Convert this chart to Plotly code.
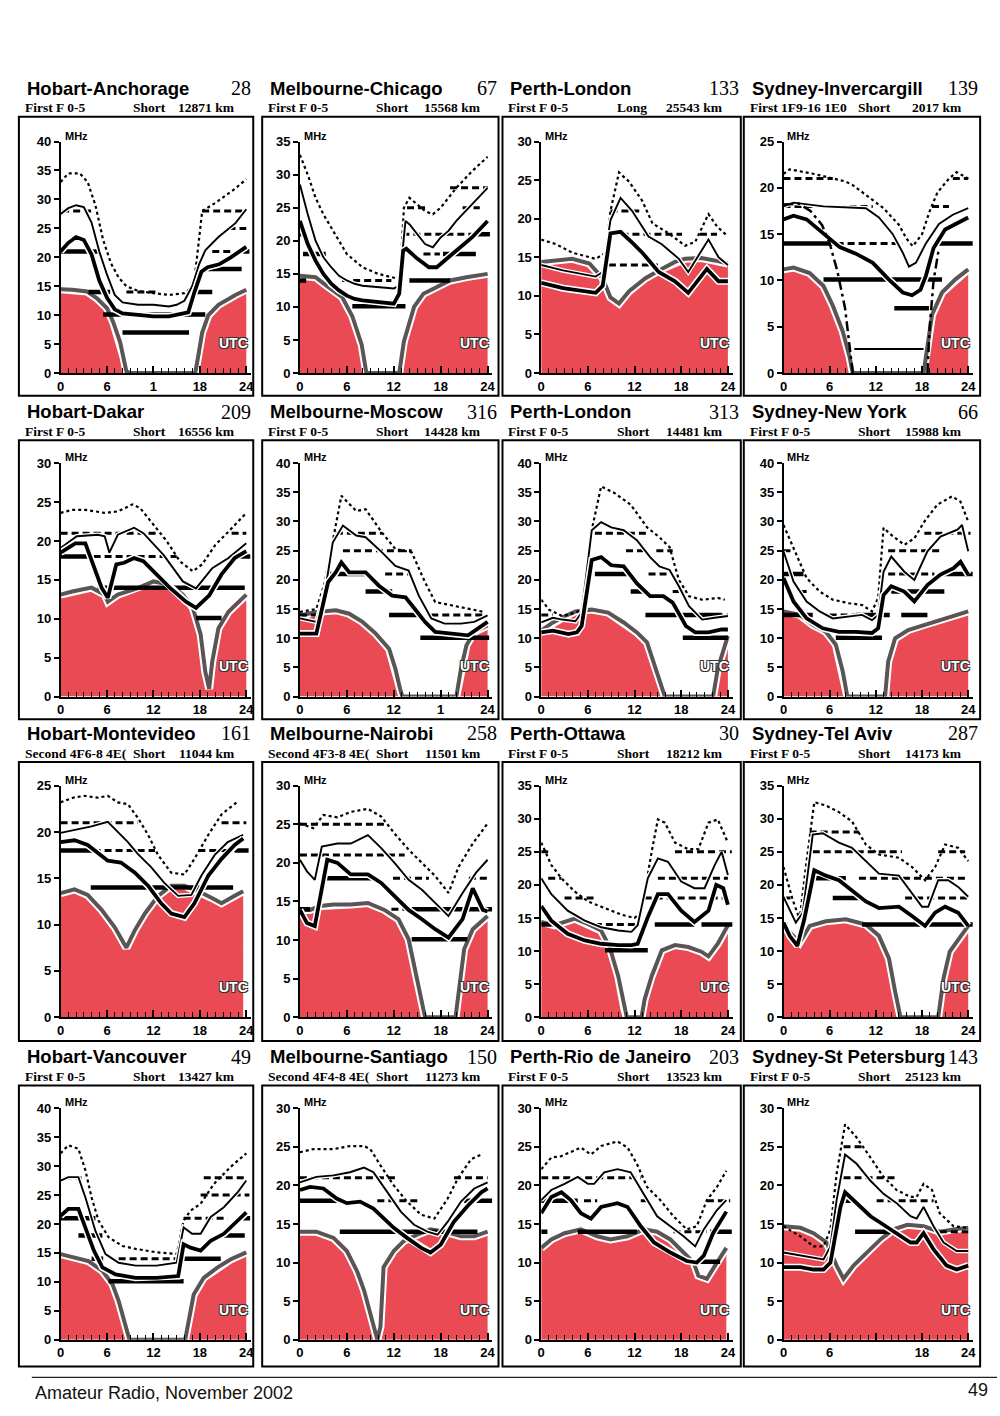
import plotly.graph_objects as go

# ---------------- data (UTC hour, MHz) ----------------
# curves: UD = upper decile (dotted), MUF = thin solid, OWF = thick solid,
# LUF = lower limit (red area). Bands: (MHz, from hour, to hour)

HA_UD = [(0,33),(1,34.5),(2.5,34.5),(3.5,33),(4.5,29),(5.5,23),(6.5,19),(7.5,16.5),(8.5,15),(10,14.2),(12,13.8),(14,13.5),(16,13.8),(17.2,15),(17.8,22),(18.3,28),(20,29.4),(22.5,31.8),(24,33.5)]
HA_MUF = [(0,27.5),(1,28.5),(2,29),(3,28.7),(4,26),(5,21),(6,17),(7,13.5),(8,12.2),(10,11.8),(12,11.8),(14,11.5),(15,11.8),(16,12.5),(17,15),(17.9,18.8),(18.7,21.2),(20.4,23.5),(22.6,25.9),(24,28.3)]
HA_OWF = [(0,21),(1,22.5),(2,23.5),(3,23),(4,20.5),(5,16),(6,13),(7,11),(8,10.3),(10,10),(12,9.8),(14,9.8),(16.5,10.5),(17.3,14),(18.2,17.5),(19,18.3),(20.5,18.8),(22,20),(24,21.8)]
HA_LUF = [(0,14.5),(1.5,14.4),(3.4,14.1),(4.7,12.9),(6,11.2),(6.8,8.8),(7.7,5.3),(8.1,2.9),(8.5,0.3),(9,0),(17.4,0),(17.8,3),(18.3,7),(19.1,10),(20.4,11.8),(22.6,13.5),(24,14.4)]
HA_DASH = [(28,0.2,4.3),(28,18.3,24),(25,21.7,24),(21,19.6,22),(14,8.5,12.5)]
HA_SOLID = [(21,0,5),(21,23.6,24.4),(18,18.3,23.4),(14,3.6,6.4),(14,17.4,19.6),(10.1,5.5,18.7),(7,8,16.6)]

MC_UD = [(0,33),(1,30),(2,26.5),(3,24),(4,22),(5,20),(6,18),(7,17),(8,16),(9,15.5),(10,15),(11,14.7),(12.8,14.2),(13.3,25),(14,26.5),(15,25.5),(16,24.5),(17,24),(18,25),(19,26.5),(20,28),(22,30.5),(24,32.7)]
MC_MUF = [(0,28.5),(1,24),(2,20),(3,17.5),(4,16),(5,14.7),(6,14),(7,13.5),(8,13.2),(10,13),(11,13),(12,12.8),(12.7,13.2),(13.5,23),(14,22.5),(15,21),(16,19.5),(17,19),(18,20.5),(19,21.5),(20,23),(22,25.5),(24,28)]
MC_OWF = [(0,23),(1,19.5),(2,17),(3,15),(4,13.5),(5,12.5),(6,11.7),(7,11.2),(8,11),(10,10.8),(12,10.5),(12.7,12),(13.2,18.5),(13.6,18.8),(15,17.3),(16.5,16),(17.5,16),(19,17.5),(20,18.5),(22,20.5),(24,23)]
MC_LUF = [(0,14.7),(2,14.5),(3.3,13.3),(5.4,11.5),(6.7,8.6),(7.9,4.3),(8.5,0),(12.7,0),(13.3,4.8),(14.6,10),(15.8,12),(17.5,13),(19.2,14),(21.3,14.5),(24,15)]
MC_DASH = [(28,19.2,24),(25,13.7,16),(25,20.8,23),(21,13.1,22.5),(18,15.8,17.9),(14,5.4,11.7)]
MC_SOLID = [(21,0,0.8),(21,22.5,24.3),(18,0.4,3.3),(18,18.3,22.5),(14,14,19.2),(14,0,0.8),(10.1,6.7,13.5)]

PL_UD = [(0,17.3),(1.9,16.7),(4,15.6),(7,14.8),(8.3,15.6),(8.9,21),(10,26),(11.3,24.8),(13,22.3),(14.3,19.4),(16.4,18.1),(18.5,16.5),(19.8,17),(21.5,20.6),(22.6,19),(24,17.7)]
PL_MUF = [(0,14),(2.8,13.3),(7,12.5),(7.9,13.1),(8.9,19.8),(10.2,22.7),(11.7,21),(13.8,17.7),(15.5,16.7),(17.7,14.8),(18.9,13.1),(20.2,15.2),(21.5,17.3),(22.8,15),(24,14)]
PL_OWF = [(0,11.7),(2.8,11),(7,10.4),(7.9,11.3),(8.9,18.1),(10.2,18.3),(11.7,16.9),(13,15.6),(15.1,13.1),(17.2,11.9),(18.9,10.4),(21.3,13.5),(22.8,11.9),(24,11.9)]
PL_LUF = [(0,14.4),(1.9,14.6),(4,14.8),(6.2,14.2),(7.9,12.3),(8.9,9.8),(10,9),(11.3,10.6),(13.4,12.3),(15.5,13.5),(17.2,14.4),(18.5,14.8),(20.6,14.9),(22.3,14.6),(24,14.2)]
PL_DASH = [(21,8.9,12.6),(18,8.9,18.1),(18,20.4,22.6),(14,8.7,15)]
PL_SOLID = []

SI_UD = [(0,21.5),(0.8,22),(4,21.5),(8,20.7),(9,20.3),(11,19),(13,17.8),(15,16),(16,14.5),(16.8,13.7),(18,15),(19,17.5),(20,19.5),(21.5,21),(22.5,21.7),(24,21)]
SI_MUF = [(0,18),(1.3,18.4),(5.2,18),(10.7,17.8),(12.4,16.8),(14.2,15),(15.5,13),(16.3,11.5),(17.2,11.9),(18.5,14),(20.2,16.1),(22,17.1),(24,17.8)]
SI_OWF = [(0,16.6),(1.3,17),(3,16.6),(5.2,15),(7.3,13.6),(9.4,12.9),(11.6,11.9),(13.7,10.1),(15.5,8.7),(16.7,8.4),(17.8,9),(18.5,10.5),(19.5,13.5),(21,15.5),(24,16.8)]
SI_E = [(0,18.2),(2,18.3),(3.5,17.5),(5,16),(6,14),(7,11),(8,7),(8.6,3),(9,0),(None,None),(18.7,0),(19,5),(19.5,10),(20.2,13.5)]
SI_LUF = [(0,11.2),(1.3,11.4),(3.4,10.8),(5.2,9.4),(6.4,7.3),(7.7,4.5),(8.6,1.7),(9,0),(18.2,0),(18.7,2.8),(19.3,6.3),(20.6,8.7),(22.3,10.1),(24,11.2)]
SI_DASH = [(21,0,6.4),(21,22,24),(18,0,11.6),(18,19.3,21.5),(14,6.9,15.5),(10.1,15,16.7)]
SI_SOLID = [(14,0,6.9),(14,19.7,24.6),(10.1,5.2,20.6),(7,14.4,18.9)]
SI_THIN = [(2.6,9.2,18.2)]

HD_UD = [(0,23.6),(1.5,24),(3.2,24),(5.7,23.6),(7.4,23.8),(9.3,24.7),(10.3,24.2),(12,22.1),(13.7,20),(15.4,17.4),(17.1,16.1),(18.3,17),(20,19.5),(21.7,21.2),(24,23.6)]
HD_MUF = [(0,19.1),(2.1,20.6),(4.8,20.8),(5.7,20.6),(6.3,18.5),(7.4,20.8),(9.5,21.7),(10.7,21),(13.3,18.2),(15.8,14.8),(17.5,13.9),(19.6,16.5),(21.7,17.8),(24,19.7)]
HD_OWF = [(0,18.5),(1.9,19.7),(3.2,19.7),(4.4,16.5),(5.3,14),(6.1,12.7),(7.2,17),(8.2,17.2),(9.5,17.8),(10.7,17.4),(12.4,15.7),(14.1,14),(16.2,12.2),(17.5,11.4),(19.2,13),(20.8,15.7),(22.5,17.8),(24,18.7)]
HD_LUF = [(0,13.1),(1.5,13.5),(4,14),(5.7,13.1),(6.1,12.2),(7.4,13.1),(9.9,13.9),(12,14.8),(14.1,14.4),(15.8,13.1),(17.1,11.4),(18.1,8),(18.7,3.2),(19.2,1),(19.6,4.5),(20.4,8.8),(21.7,10.9),(24,13.1)]
HD_DASH = [(21,0,12.4),(21,22.1,24),(18,0,15),(18,22.5,24.5)]
HD_SOLID = [(18,0,3.6),(18,23.2,24.5),(14,4.8,23.8),(10.1,17.5,20.8)]

MM_UD = [(0,14.5),(2.1,15),(3.2,19.6),(4.2,26.4),(5.3,34.4),(7.2,31.8),(8.4,32.1),(10.5,28.1),(12.2,25.3),(14.3,24.7),(16,19.6),(17.3,16.2),(19.4,15.6),(21.5,15),(23.6,14.5)]
MM_MUF = [(0,13.4),(2.1,12.8),(3.4,19.6),(4.2,26.4),(5.5,29.3),(7.2,27.6),(8.4,27.3),(10.5,24.7),(12.2,22.4),(13.9,21.6),(15.2,17.3),(16.8,13.4),(18.5,12.5),(20.6,12.5),(22.3,12.8),(24,13.9)]
MM_OWF = [(0,10.8),(2.1,10.8),(3.6,19.6),(4.6,21.3),(5.3,23),(6.3,21.3),(8.4,21.3),(10.1,19),(11.8,17.3),(13.5,17),(14.7,15),(16,12.8),(17.3,11.1),(19.4,10.8),(21.5,10.5),(22.7,11.6),(24,12.8)]
MM_LUF = [(0,13.9),(2.1,14.5),(4.6,14.8),(6.3,14.2),(8,12.8),(9.7,10.8),(11.4,8.2),(12.2,4.8),(12.8,1.4),(13.1,0),(20,0),(20.6,4.8),(21.3,8.8),(22.3,11.1),(24,12.2)]
MM_DASH = [(28,4.6,10.5),(25,5.5,14.3),(21,10.9,14.3),(14,16.8,23.6),(14,0,2.5)]
MM_SOLID = [(21,3.8,8.4),(18,8.4,11.8),(14,11.4,15.2),(10.1,15.4,24.2)]

PL2_UD = [(0,16.6),(1,14.9),(2.7,13.8),(4.4,14.4),(5.2,14.9),(6.3,27.3),(7.7,36),(9.4,34.9),(11.5,32.9),(13.6,29),(15.2,27.3),(16.5,25.6),(17.7,20),(19,17.2),(20.7,16.6),(22.7,16.9),(23.6,16.6)]
PL2_MUF = [(0,12.7),(1.5,13.5),(2.7,13.2),(4.4,12.9),(5.2,14.4),(6.5,28.5),(7.7,29.9),(9,29),(10.6,28.5),(12.3,26.8),(14,23.9),(15.2,22.3),(16.5,21.7),(17.7,18.9),(19,15.5),(20.7,13.2),(22.3,13.5),(24,13.8)]
PL2_OWF = [(0,11),(1.5,11.3),(3.5,10.7),(4.6,11),(5.2,12.1),(6.5,23.4),(7.7,23.9),(9,22.5),(10.6,22.3),(12.3,19.4),(14,17.2),(15.7,17.2),(16.9,16.1),(18.6,12.1),(19.8,11),(21.5,11),(23.2,11.5),(24,11.5)]
PL2_LUF = [(0,11.3),(1.5,12.7),(3.1,13.8),(4.4,14.6),(6.5,14.9),(8.6,14.4),(10.6,12.7),(12.3,11),(13.6,9.3),(14.4,5.9),(15.2,2.5),(15.9,0),(22.1,0),(22.7,4.8),(23.6,8.7),(24,10.4)]
PL2_DASH = [(28,6.9,13.6),(25,10.9,13.1),(25,14.8,16.9),(21,13.8,16.5),(18,16.9,17.7),(14,18.2,24),(14,0,1.5)]
PL2_SOLID = [(21,6.9,11.5),(18,11.5,13.6),(14,13.4,23.2),(10.1,18.2,24)]

SN_UD = [(0,29.4),(1.3,25.4),(3,20.3),(4.7,18),(6.4,16.6),(8.5,16),(10.2,15.7),(11.5,14.6),(12.3,16.9),(13,28.9),(14,27.7),(15.7,26),(17,27.1),(18.3,30),(20,32.9),(21.9,34.3),(23,33.4),(24,30)]
SN_MUF = [(0,24.9),(1.3,19.7),(3,16.3),(4.7,14.6),(6.4,13.4),(8.5,13.7),(10.2,14),(11.5,13.1),(12.3,14),(13,21.4),(14,24),(15.7,21.4),(17,20),(18.7,24.9),(20.4,27.4),(22.6,28.6),(23.2,29.4),(24,24.9)]
SN_OWF = [(0,20.3),(1.3,16.3),(3,13.4),(5.1,11.7),(7.2,11.1),(9.4,11.1),(11.5,10.9),(12.3,11.7),(13,17.4),(14,18.9),(15.7,18),(17,16.3),(18.7,19.1),(20.4,20.9),(22.1,22),(23,23.1),(24,20.9)]
SN_LUF = [(0,14.6),(2.1,14),(3.8,12.3),(5.5,11.1),(6.8,8.9),(7.7,4.3),(8.3,0),(13.2,0),(13.6,6),(14.5,10),(16.2,11.4),(18.3,12.3),(20.4,13.1),(22.6,14),(24,14.6)]
SN_DASH = [(28,18.3,24.3),(25,0,1.3),(25,13.6,20.4),(21,13.6,19.6),(18,2.1,3.4),(18,17,17.9),(14,6,13.6)]
SN_SOLID = [(21,0,2.6),(21,20.6,24.6),(18,14,20.9),(14,0,3.8),(14,9.4,13.8),(14,15.3,18.7),(10.1,6.8,12.8)]

HM_UD = [(0,23.2),(1.6,23.7),(3.1,23.9),(4.8,23.7),(6.1,23.9),(7.4,23.2),(8.7,23),(10,21.5),(11.3,19.7),(12.6,17.5),(14.3,15.6),(16,15.4),(17.3,17.1),(19.1,19.7),(20.8,21.9),(22.5,23),(22.9,23.3)]
HM_MUF = [(0,19.9),(1.8,20.2),(4,20.6),(6.1,21.1),(7.4,20),(8.7,18.9),(10,17.6),(11.7,16.2),(13.4,14.5),(15.2,13.1),(16.9,13.2),(18.2,15.3),(19.9,17.5),(21.6,18.9),(23.6,19.7)]
HM_OWF = [(0,18.9),(1.8,19.1),(3.5,18.6),(4.8,17.8),(6.1,16.9),(7.8,16.7),(9.6,15.6),(11.3,14.2),(13,12.3),(14.3,11.2),(16,10.8),(17.3,12.3),(19.1,15.3),(20.8,17.1),(22.5,18.6),(23.6,19.3)]
HM_LUF = [(0,13.4),(1.8,13.8),(3.5,13.2),(5.3,11.6),(7,9.7),(8.5,7.5),(9.6,9.4),(10.9,11.2),(12.6,13.1),(14.3,14.2),(16,14.2),(17.8,13.6),(19.5,12.9),(20.8,12.3),(22.5,13.1),(23.6,13.6)]
HM_DASH = [(21,0,10),(21,20.8,24),(18,0,12.2),(18,17.8,24)]
HM_SOLID = [(18,0,4.4),(18,22.5,24.3),(14,3.9,22.3)]

MN_UD = [(0,25.1),(1.7,24.5),(3,26.2),(4.8,25.9),(6.5,26.6),(8.7,27),(10.4,26),(12.1,23.8),(13.9,21.7),(15.6,20),(17.3,18.3),(19,16.1),(20.3,19.5),(22.1,22.5),(24,25.1)]
MN_MUF = [(0,20.4),(0.9,18.9),(1.9,17.8),(2.8,22.1),(4.8,22.5),(6.5,22.5),(8.7,23.6),(10.4,21.9),(12.1,20),(13.9,17.8),(15.6,16.5),(17.3,14.8),(19,13.1),(20.8,16.1),(22.5,18.7),(24,20.4)]
MN_OWF = [(0,13.9),(0.9,12.2),(1.9,11.8),(3.5,20.4),(4.8,20),(6.5,18.5),(8.7,18.5),(10.4,17.4),(12.1,15.7),(13.9,13.9),(15.6,12.7),(17.3,11.4),(19,10.3),(20.8,12.7),(22.1,16.7),(23.4,13.9),(24,13.7)]
MN_LUF = [(0,13.9),(1.3,13.9),(2.6,14.4),(4.3,14.6),(6.5,14.6),(8.7,14.8),(10.8,13.9),(12.6,12.7),(13.9,10.1),(14.7,6.2),(15.6,2.4),(16,0),(19.9,0),(20.3,3.2),(21,8.8),(22.1,11.4),(24,13.1)]
MN_DASH = [(25,0,10.8),(21,0,13.4),(18,11.9,16.5),(18,21.6,24.2),(14,11.7,19)]
MN_SOLID = [(18,3.2,9.5),(14,0,1.3),(14,14.3,24.6),(10.1,14.3,21.4)]

PO_UD = [(0,26.4),(1.3,23),(2.6,21),(4.3,19),(6,17.5),(8.2,16.5),(10.3,15.5),(12,15),(12.9,16),(14.2,25),(15,29.9),(15.9,29.4),(17.2,26.4),(18.9,25.4),(20.2,25.4),(21.5,29.4),(22.7,29.9),(24,26.4)]
PO_MUF = [(0,21),(1.3,18.6),(3.4,16.1),(5.6,14.6),(7.7,13.6),(9.9,13.1),(11.6,12.9),(12.4,13.9),(13.7,21),(15,24),(16.3,23.5),(18,20.5),(19.7,19.5),(21,19.5),(22.3,23),(23.2,25),(24,21.5)]
PO_OWF = [(0,16.8),(1.3,14.6),(3.4,12.6),(5.6,11.6),(7.7,11.1),(9.9,10.9),(11.6,10.9),(12.4,11.1),(13.7,15.1),(15,18.6),(16.3,18.6),(18,16.1),(19.7,14.4),(21.5,16.1),(22.5,20),(23.4,19.5),(24,17)]
PO_LUF = [(0,14.4),(1.7,13.9),(4.3,14.9),(6,14.1),(7.7,13.1),(8.8,10.6),(9.9,6.2),(10.7,1.2),(11,0),(12.9,0),(13.3,2.7),(14.2,6.2),(15.5,10.1),(17.2,10.9),(18.9,10.6),(20.6,9.9),(21.5,9.2),(22.7,11.1),(24,13.9)]
PO_DASH = [(25,0,0.9),(25,17.2,24.5),(21,0.9,2.6),(21,15,24),(18,3,6.9),(18,13.3,24),(14,6.9,12.4)]
PO_SOLID = [(14,0,1.3),(14,14.6,19.7),(14,20.6,24.6),(10.1,8.2,13.7)]

TA_UD = [(0,22.7),(1.2,17.7),(2.1,14.8),(2.9,22.7),(4,32.5),(5.5,32),(7.2,31),(8.9,29.6),(10.7,26.1),(12.4,24.6),(15,24.1),(16.7,22.7),(18.4,20.7),(19.7,22.7),(21,26.1),(22.7,25.6),(24,23.6)]
TA_MUF = [(0,18.2),(0.8,16.3),(1.6,14.3),(2.5,15.8),(3.8,27.6),(5.1,27.8),(7.2,26.4),(8.9,25.6),(10.7,23.6),(12.4,21.7),(15,21.4),(16.7,18.7),(18,16.7),(18.8,16.7),(20.1,20.7),(21.4,20.7),(22.7,19.7),(24,18.2)]
TA_OWF = [(0,14.3),(0.8,12.3),(1.8,10.8),(2.7,14.8),(4,22.2),(5.5,21.4),(7.2,20.7),(8.9,19.2),(10.7,17.5),(12.4,16.5),(15,16.7),(16.7,15.3),(18.4,13.8),(19.7,15.8),(21,16.7),(22.7,15.8),(24,13.8)]
TA_LUF = [(0,13.8),(1.2,12.3),(2.1,11.3),(3.4,13.8),(5.5,14.5),(8.1,14.8),(10.7,14),(12.4,12.3),(13.7,8.9),(14.5,3.9),(15.2,0),(20.1,0),(20.8,5.9),(21.6,9.9),(22.7,11.8),(24,13.8)]
TA_DASH = [(28,3.4,9.8),(25,3.8,15.4),(25,20.1,23.6),(21,9.8,24),(18,0,1.2),(18,15.8,24)]
TA_SOLID = [(21,3.6,8.1),(18,6.4,10.2),(14,0,0.5),(14,10.2,24.6)]

HV_UD = [(0,32.2),(1,33.6),(2.3,33),(3.2,29.3),(4,24.6),(4.9,20.6),(6.2,17.7),(8,16.2),(9.7,15.7),(12.4,15.1),(15,14.8),(15.9,20.6),(16.8,22.3),(18.1,23.5),(19.8,26.9),(22,29.9),(24,32.2)]
HV_MUF = [(0,27.5),(1,28.1),(2.3,28.1),(3.2,24.6),(4.5,18.8),(5.8,14.8),(7.5,13.3),(9.7,12.8),(12.4,12.8),(15,13.3),(15.9,19.4),(17,18.3),(18.1,18.3),(19.4,21.2),(21.1,22.9),(22.9,25.5),(24,27.5)]
HV_OWF = [(0,21.4),(1,22.6),(2.3,22.6),(3.2,19.4),(4.3,15.4),(5.4,12.5),(7.1,11.3),(9.7,10.7),(12.4,10.7),(15.2,11),(15.9,16.5),(16.8,15.9),(18.1,15.4),(19.4,17.1),(21.1,18.3),(22.9,20.6),(24,22)]
HV_LUF = [(0,14.8),(1.8,14.2),(3.6,13.6),(5.4,11.9),(6.7,9.6),(7.5,6.7),(8.4,2.6),(8.9,0),(16.1,0),(16.5,3.2),(17.2,7.8),(18.5,10.7),(20.3,12.5),(22,13.9),(24,15.1)]
HV_DASH = [(28,0.5,2.7),(28,18.5,24),(25,18.1,24.4),(21,15.9,21.6),(14,7.5,15)]
HV_SOLID = [(21,0,4.5),(21,22.8,24.5),(18,2.3,5.4),(18,20.3,23.8),(14,4,5.5),(14,15.9,20.7),(10.1,6.2,15.9)]

MS_UD = [(0,24.3),(1.7,24.7),(4.3,24.7),(6.4,25.1),(8.2,25.1),(9,24.7),(10.3,22.6),(12,20),(13.7,17.9),(15.5,16.2),(17.2,15.7),(18.9,18.3),(20.2,20.9),(21.9,23.4),(23.2,24)]
MS_MUF = [(0,20.4),(2.1,21.1),(4.3,21.3),(6.4,21.7),(8.2,22.3),(9.4,21.7),(11.2,19.1),(12.9,16.6),(14.6,14.9),(16.3,14),(17.6,13.6),(18.9,15.3),(20.6,17.9),(22.3,19.6),(24,20.4)]
MS_OWF = [(0,19.4),(1.3,19.8),(3,19.6),(4.7,18.3),(6,17.7),(7.7,17.9),(9.4,17),(10.7,15.7),(12,14.5),(13.7,13.2),(15.5,11.9),(16.7,11.3),(18,12.3),(19.7,15.3),(21.5,17.4),(23.2,19.1),(24,19.6)]
MS_LUF = [(0,14),(2.1,14),(4.3,13.2),(6,11.5),(7.3,8.9),(8.2,6.4),(9,3.4),(9.9,0),(10.3,1.7),(10.7,9.4),(12,11.5),(13.3,12.8),(15,13.6),(16.7,14.3),(18.5,14),(20.6,13.4),(22.3,13.4),(24,14)]
MS_DASH = [(21,0,12.4),(21,19.7,24),(18,9.9,15.5),(14,13.7,18.5)]
MS_SOLID = [(18,0,4.7),(18,21,24.6),(14,5.1,22.7)]

PR_UD = [(0,22.1),(1.3,23.6),(2.6,23.8),(5.1,24.9),(6.4,24),(7.7,25.1),(9.8,25.7),(11.1,24.9),(12.3,22.8),(13.6,19.8),(15.3,18.1),(17,16),(18.7,14.3),(20,14.7),(21.3,18.1),(22.6,19.8),(23.8,21.9)]
PR_MUF = [(0,18.1),(1.3,19.4),(3,20.2),(4.7,21.1),(6,20.2),(6.8,20.2),(8.1,21.7),(9.8,22.1),(11.5,21.7),(13.2,18.9),(14.9,16),(16.6,14.7),(18.3,13.4),(19.8,12.1),(20.9,14.3),(22.6,16.8),(23.8,18.1)]
PR_OWF = [(0,16.4),(1.3,18.5),(2.6,19.1),(3.8,18.1),(5.1,16.4),(6.4,15.7),(7.7,17.2),(9.8,17.7),(11.1,17.2),(12.8,14.7),(14.5,12.6),(16.6,11.3),(18.7,10.2),(20,10),(20.9,10.9),(22.1,13.8),(23.8,16.6)]
PR_LUF = [(0,11.9),(1.3,13),(3,13.8),(5.1,14.3),(7.2,13.4),(8.9,13),(11.1,13.4),(13.2,14.3),(14.9,14),(16.6,13),(18.3,11.3),(19.6,10),(20.2,8.3),(21.3,7.9),(22.6,10),(23.8,11.9)]
PR_DASH = [(21,0,12.8),(18,5.5,7.2),(18,12.8,14),(18,21.3,24.3),(14,17,21.3)]
PR_SOLID = [(18,0,4.7),(14,0,0.8),(14,4.7,12.3),(14,21.7,24.5),(10.1,20,23)]

SP_UD = [(0,14.7),(2.2,13.4),(3.9,12.1),(5.2,12.1),(6.1,14.3),(6.9,21.5),(8,27.9),(9.5,26.2),(11.3,23.6),(13,21.1),(14.7,19.4),(16.5,18.5),(17.3,18.5),(18.2,20.2),(19.3,19.4),(20.3,16.4),(22.1,14.7),(24,14.5)]
SP_MUF = [(0,11.3),(2.2,10.9),(3.9,10.6),(5.2,10.4),(6.1,12.1),(6.9,18.1),(8,24),(9.5,22.8),(11.3,20.6),(13,18.9),(14.7,17.7),(16.5,16),(17.3,15.7),(18.2,17.2),(19.5,14.7),(20.8,12.6),(22.5,11.5),(24,11.5)]
SP_OWF = [(0,9.4),(2.2,9.4),(3.9,9.1),(5.2,9.1),(6.1,10),(7.4,17.2),(8,19.1),(9.5,17.7),(11.3,16),(13,14.9),(14.7,13.8),(16.5,12.6),(17.3,12.6),(18.2,13.8),(19.5,11.7),(21.2,9.6),(22.5,9.1),(24,9.6)]
SP_LUF = [(0,14.7),(2.2,14.5),(3.9,13.8),(5.6,12.6),(6.9,9.6),(7.8,7.9),(9.1,9.6),(10.8,11.3),(12.6,13),(14.3,14.3),(16.1,14.9),(18.2,14.7),(20.3,14),(22.1,14.3),(24,14.5)]
SP_DASH = [(25,7.8,10.4),(21,7.8,14.7),(18,12.1,19.5),(14,20.3,24)]
SP_SOLID = [(18,7.4,9.1),(14,9.3,14.3)]

XT = ["0", "6", "12", "18", "24"]

PANELS = [
    dict(t="Hobart-Anchorage", n="28", s="First F 0-5", r="Short", d="12871 km", ymax=40, xt=["0","6","1","18","24"], luf=HA_LUF, ud=HA_UD, muf=HA_MUF, owf=HA_OWF, dash=HA_DASH, solid=HA_SOLID),
    dict(t="Melbourne-Chicago", n="67", s="First F 0-5", r="Short", d="15568 km", ymax=35, xt=XT, luf=MC_LUF, ud=MC_UD, muf=MC_MUF, owf=MC_OWF, dash=MC_DASH, solid=MC_SOLID),
    dict(t="Perth-London", n="133", s="First F 0-5", r="Long", d="25543 km", ymax=30, xt=XT, luf=PL_LUF, ud=PL_UD, muf=PL_MUF, owf=PL_OWF, dash=PL_DASH, solid=PL_SOLID),
    dict(t="Sydney-Invercargill", n="139", s="First 1F9-16 1E0", r="Short", d="2017 km", ymax=25, xt=XT, luf=SI_LUF, ud=SI_UD, muf=SI_MUF, owf=SI_OWF, dash=SI_DASH, solid=SI_SOLID, thin=SI_THIN, e=SI_E),
    dict(t="Hobart-Dakar", n="209", s="First F 0-5", r="Short", d="16556 km", ymax=30, xt=XT, luf=HD_LUF, ud=HD_UD, muf=HD_MUF, owf=HD_OWF, dash=HD_DASH, solid=HD_SOLID),
    dict(t="Melbourne-Moscow", n="316", s="First F 0-5", r="Short", d="14428 km", ymax=40, xt=["0","6","12","1","24"], luf=MM_LUF, ud=MM_UD, muf=MM_MUF, owf=MM_OWF, dash=MM_DASH, solid=MM_SOLID),
    dict(t="Perth-London", n="313", s="First F 0-5", r="Short", d="14481 km", ymax=40, xt=XT, luf=PL2_LUF, ud=PL2_UD, muf=PL2_MUF, owf=PL2_OWF, dash=PL2_DASH, solid=PL2_SOLID),
    dict(t="Sydney-New York", n="66", s="First F 0-5", r="Short", d="15988 km", ymax=40, xt=XT, luf=SN_LUF, ud=SN_UD, muf=SN_MUF, owf=SN_OWF, dash=SN_DASH, solid=SN_SOLID),
    dict(t="Hobart-Montevideo", n="161", s="Second 4F6-8 4E(", r="Short", d="11044 km", ymax=25, xt=XT, luf=HM_LUF, ud=HM_UD, muf=HM_MUF, owf=HM_OWF, dash=HM_DASH, solid=HM_SOLID),
    dict(t="Melbourne-Nairobi", n="258", s="Second 4F3-8 4E(", r="Short", d="11501 km", ymax=30, xt=XT, luf=MN_LUF, ud=MN_UD, muf=MN_MUF, owf=MN_OWF, dash=MN_DASH, solid=MN_SOLID),
    dict(t="Perth-Ottawa", n="30", s="First F 0-5", r="Short", d="18212 km", ymax=35, xt=XT, luf=PO_LUF, ud=PO_UD, muf=PO_MUF, owf=PO_OWF, dash=PO_DASH, solid=PO_SOLID),
    dict(t="Sydney-Tel Aviv", n="287", s="First F 0-5", r="Short", d="14173 km", ymax=35, xt=XT, luf=TA_LUF, ud=TA_UD, muf=TA_MUF, owf=TA_OWF, dash=TA_DASH, solid=TA_SOLID),
    dict(t="Hobart-Vancouver", n="49", s="First F 0-5", r="Short", d="13427 km", ymax=40, xt=XT, luf=HV_LUF, ud=HV_UD, muf=HV_MUF, owf=HV_OWF, dash=HV_DASH, solid=HV_SOLID),
    dict(t="Melbourne-Santiago", n="150", s="Second 4F4-8 4E(", r="Short", d="11273 km", ymax=30, xt=XT, luf=MS_LUF, ud=MS_UD, muf=MS_MUF, owf=MS_OWF, dash=MS_DASH, solid=MS_SOLID),
    dict(t="Perth-Rio de Janeiro", n="203", s="First F 0-5", r="Short", d="13523 km", ymax=30, xt=XT, luf=PR_LUF, ud=PR_UD, muf=PR_MUF, owf=PR_OWF, dash=PR_DASH, solid=PR_SOLID),
    dict(t="Sydney-St Petersburg", n="143", s="First F 0-5", r="Short", d="25123 km", ymax=30, xt=["0","6","","18","24"], luf=SP_LUF, ud=SP_UD, muf=SP_MUF, owf=SP_OWF, dash=SP_DASH, solid=SP_SOLID),
]

# ---------------- layout geometry (pixels) ----------------
W, H = 1000, 1416
COL_X0 = [57, 298, 541, 785]
COL_X24 = [244, 487, 729, 971]
COL_BOX = [(15, 251), (260, 498), (502, 742), (745, 983)]
ROW_Y0 = [370, 697, 1021, 1347]
ROW_YT = [136, 461, 787, 1113]
ROW_BOX = [(111, 393), (438, 720), (763, 1045), (1090, 1374)]
XMAX = 24.6

RED = "#e94a54"
GREY = "#5a5454"
SANS = "Liberation Sans, Arial, sans-serif"
SERIF = "Liberation Serif, Times New Roman, serif"


def fx(px):
    return px / W


def fy(py):
    return 1 - py / H


def xy(pairs):
    return [p[0] for p in pairs], [p[1] for p in pairs]


def seg(bands):
    xs, ys = [], []
    for f, a, b in bands:
        xs += [a, b, None]
        ys += [f, f, None]
    return xs, ys


fig = go.Figure()
layout = dict(width=W, height=H, margin=dict(l=0, r=0, t=0, b=0), autosize=False,
              paper_bgcolor="white", plot_bgcolor="rgba(0,0,0,0)", showlegend=False)
ann, shapes = [], []


def add_line(xs, ys, xa, ya, **line):
    fig.add_trace(go.Scatter(x=xs, y=ys, mode="lines", line=line, xaxis=xa, yaxis=ya,
                             hoverinfo="skip", showlegend=False))


for i, p in enumerate(PANELS):
    r, c = divmod(i, 4)
    k = "" if i == 0 else str(i + 1)
    xa, ya = "x" + k, "y" + k
    x0, x24 = COL_X0[c], COL_X24[c]
    xr = x0 + XMAX * (x24 - x0) / 24
    tickfont = dict(family=SANS, size=13, color="black", weight="bold")
    layout["xaxis" + k] = dict(domain=[fx(x0), fx(xr)], range=[0, XMAX], anchor=ya,
                               tickmode="array", tickvals=[0, 6, 12, 18, 24], ticktext=p["xt"],
                               ticks="inside", ticklen=7, tickwidth=1.5, tickcolor="black",
                               minor=dict(dtick=1, tick0=0, ticks="inside", ticklen=5, tickwidth=1.2, tickcolor="black"),
                               showline=True, linecolor="black", linewidth=2, showgrid=False, zeroline=False,
                               tickfont=tickfont, layer="above traces", fixedrange=True)
    layout["yaxis" + k] = dict(domain=[fy(ROW_Y0[r]), fy(ROW_YT[r])], range=[0, p["ymax"]], anchor=xa,
                               tickmode="array", tickvals=list(range(0, p["ymax"] + 1, 5)),
                               ticks="outside", ticklen=5, tickwidth=1.5, tickcolor="black",
                               showline=True, linecolor="black", linewidth=1.5, showgrid=False, zeroline=False,
                               tickfont=tickfont, layer="above traces", fixedrange=True)

    # red area below the lower limit
    lx, ly = xy(p["luf"])
    fig.add_trace(go.Scatter(x=lx, y=ly, mode="lines", fill="tozeroy", fillcolor=RED,
                             line=dict(width=0, color=RED), xaxis=xa, yaxis=ya,
                             hoverinfo="skip", showlegend=False))
    add_line(lx, ly, xa, ya, color="white", width=8)
    add_line(lx, ly, xa, ya, color=GREY, width=4)

    # band openings
    bx, by = seg(p["dash"])
    add_line(bx, by, xa, ya, color="black", width=3, dash="7px,4px")
    bx, by = seg(p["solid"])
    add_line(bx, by, xa, ya, color="black", width=4.5)
    if "thin" in p:
        bx, by = seg(p["thin"])
        add_line(bx, by, xa, ya, color="black", width=2)

    # curves
    ux, uy = xy(p["ud"])
    add_line(ux, uy, xa, ya, color="black", width=2.2, dash="3px,3px")
    mx, my = xy(p["muf"])
    add_line(mx, my, xa, ya, color="white", width=4.5)
    add_line(mx, my, xa, ya, color="black", width=1.9)
    ox, oy = xy(p["owf"])
    add_line(ox, oy, xa, ya, color="white", width=7)
    add_line(ox, oy, xa, ya, color="black", width=3.8)
    if "e" in p:
        ex, ey = xy(p["e"])
        add_line(ex, ey, xa, ya, color="black", width=2.5, dash="10px,4px,3px,4px")

    # frame
    bx0, bx1 = COL_BOX[c]
    by0, by1 = ROW_BOX[r]
    shapes.append(dict(type="rect", xref="paper", yref="paper", x0=fx(bx0), x1=fx(bx1),
                       y0=fy(by1), y1=fy(by0), line=dict(color="black", width=2)))

    # texts
    ann.append(dict(text=p["t"], x=fx(bx0 + 6), y=fy(by0 - 29), xref="paper", yref="paper",
                    xanchor="left", yanchor="middle", showarrow=False,
                    font=dict(family=SANS, size=18.5, color="black", weight="bold")))
    ann.append(dict(text=p["n"], x=fx(bx1), y=fy(by0 - 29), xref="paper", yref="paper",
                    xanchor="right", yanchor="middle", showarrow=False,
                    font=dict(family=SERIF, size=20, color="black")))
    ann.append(dict(text=p["s"], x=fx(bx0 + 4), y=fy(by0 - 9), xref="paper", yref="paper",
                    xanchor="left", yanchor="middle", showarrow=False,
                    font=dict(family=SERIF, size=13.5, color="black", weight="bold")))
    ann.append(dict(text=p["r"], x=fx(bx0 + 113), y=fy(by0 - 9), xref="paper", yref="paper",
                    xanchor="left", yanchor="middle", showarrow=False,
                    font=dict(family=SERIF, size=13.5, color="black", weight="bold")))
    ann.append(dict(text=p["d"], x=fx(bx1 - 16), y=fy(by0 - 9), xref="paper", yref="paper",
                    xanchor="right", yanchor="middle", showarrow=False,
                    font=dict(family=SERIF, size=13.5, color="black", weight="bold")))
    ann.append(dict(text="MHz", x=fx(x0 + 2), y=fy(ROW_YT[r] - 6), xref="paper", yref="paper",
                    xanchor="left", yanchor="middle", showarrow=False,
                    font=dict(family=SANS, size=11, color="black", weight="bold")))
    ann.append(dict(text="UTC", x=22.3, y=0.13, xref=xa, yref=ya + " domain",
                    xanchor="center", yanchor="middle", showarrow=False,
                    font=dict(family=SANS, size=14, color="white", weight="bold",
                              shadow="1px 1px 0 #333, -1px -1px 0 #333, 1px -1px 0 #333, -1px 1px 0 #333")))

# footer
shapes.append(dict(type="line", xref="paper", yref="paper", x0=fx(28), x1=fx(1000),
                   y0=fy(1385), y1=fy(1385), line=dict(color="#222", width=1.3)))
ann.append(dict(text="Amateur Radio, November 2002", x=fx(29), y=fy(1401), xref="paper", yref="paper",
                xanchor="left", yanchor="middle", showarrow=False,
                font=dict(family=SANS, size=18, color="#111")))
ann.append(dict(text="49", x=fx(993), y=fy(1398), xref="paper", yref="paper",
                xanchor="right", yanchor="middle", showarrow=False,
                font=dict(family=SANS, size=18, color="#111")))

layout["annotations"] = ann
layout["shapes"] = shapes
fig.update_layout(**layout)
fig.write_html("out.html", config={"displayModeBar": False},
               post_script="document.body.style.margin='0';document.body.style.padding='0';"
                           "document.documentElement.style.overflow='hidden';")
